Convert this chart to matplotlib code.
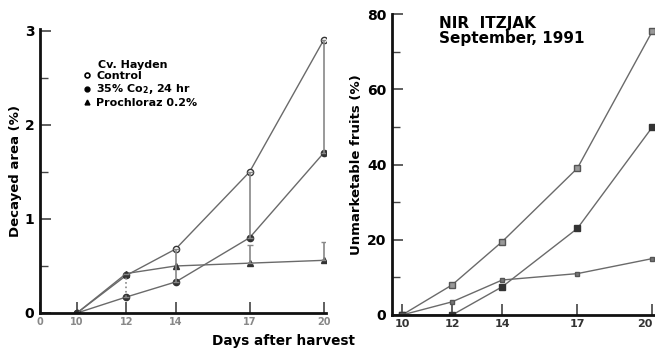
import matplotlib
matplotlib.use("Agg")
import matplotlib.pyplot as plt
from matplotlib.lines import Line2D

# DATA

days = [10, 12, 14, 17, 20]

# Left panel: decayed area (%), cv. Hayden
decayControl = [0.0, 0.40, 0.68, 1.50, 2.90]
decayCO2 = [0.0, 0.17, 0.33, 0.80, 1.70]
decayProchloraz = [0.0, 0.42, 0.50, 0.53, 0.56]

# vertical bars drawn between treatments
barDays = [12, 14, 17, 17, 20, 20]
barLow = [0.17, 0.33, 0.80, 0.53, 1.70, 0.56]
barHigh = [0.42, 0.68, 1.50, 0.72, 2.90, 0.75]

# Right panel: unmarketable fruits (%), Nir Itzjak
fruitControl = [0.0, 8.0, 19.5, 39.0, 75.5]
fruitCO2 = [0.0, 0.0, 7.5, 23.0, 50.0]
fruitProchloraz = [0.0, 3.5, 9.3, 11.0, 15.0]

leftYTicks = [0, 1, 2, 3]
rightYTicks = [0, 20, 40, 60, 80]
xTickLabels = ["10", "12", "14", "17", "20"]

legendLabels = ["Control", "35% Co$_2$, 24 hr", "Prochloraz 0.2%"]

# STYLE

plt.rcParams["font.family"] = ["DejaVu Sans"]
plt.rcParams["font.weight"] = "bold"
plt.rcParams["axes.labelweight"] = "bold"
plt.rcParams["mathtext.default"] = "bf"

lineColour = "#6a6a6a"
markerColour = "#333333"

fig = plt.figure(figsize=(6.55, 3.54), dpi=100)
fig.patch.set_facecolor("white")

axLeft = fig.add_axes([40 / 655, 1 - 313 / 354, 286 / 655, 284 / 354])
axRight = fig.add_axes([392 / 655, 1 - 315 / 354, 263 / 655, 301 / 354])


def styleAxis(ax, labelColour):
	for side in ["top", "right"]:
		ax.spines[side].set_visible(False)
	for side in ["left", "bottom"]:
		ax.spines[side].set_linewidth(2.0)
		ax.spines[side].set_color("#111111")
	ax.tick_params(which="both", direction="in", color="#444444")
	ax.tick_params(which="major", length=8, width=1.2)
	ax.tick_params(which="minor", length=6, width=1.0)
	ax.tick_params(axis="y", labelsize=10, pad=4)
	ax.tick_params(axis="x", labelsize=7, labelcolor=labelColour, pad=3)
	ax.set_facecolor("white")


# LEFT PANEL

axLeft.plot(days, decayControl, color=lineColour, lw=1.0, marker="o", ms=4.5, mfc="white", mec=markerColour, mew=1.0)
axLeft.plot(days, decayCO2, color=lineColour, lw=1.0, marker="o", ms=4.5, mfc=markerColour, mec=markerColour)
axLeft.plot(days, decayProchloraz, color=lineColour, lw=1.0, marker="^", ms=4.5, mfc=markerColour, mec=markerColour)

for day, low, high in zip(barDays, barLow, barHigh):
	axLeft.vlines(day, low, high, color="#888888", lw=1.2, linestyles=":" if day == 12 else "-")
	axLeft.hlines([low, high], day - 0.12, day + 0.12, color="#888888", lw=1.0)

axLeft.set_xlim(8.5, 20.1)
axLeft.set_ylim(0, 3.02)
axLeft.set_xticks([8.5] + days)
axLeft.set_xticklabels(["0"] + xTickLabels)
axLeft.set_yticks(leftYTicks)
axLeft.set_yticks([0.5, 1.5, 2.5], minor=True)
axLeft.set_yticklabels([str(t) for t in leftYTicks])
styleAxis(axLeft, "#888888")
axLeft.set_ylabel("Decayed area (%)", fontsize=9.5, labelpad=2)

handles = [
	Line2D([], [], ls="none", marker="o", ms=3.5, mfc="white", mec="black", mew=1.2),
	Line2D([], [], ls="none", marker="o", ms=3.5, mfc="black", mec="black"),
	Line2D([], [], ls="none", marker="^", ms=3.5, mfc="black", mec="black"),
]
legend = axLeft.legend(handles, legendLabels, title="Cv. Hayden", loc="upper left", bbox_to_anchor=(0.13, 0.915), frameon=False, fontsize=8, title_fontsize=8, handlelength=0.5, handletextpad=0.6, labelspacing=0.12, borderpad=0.1)
legend._legend_box.align = "left"
legend.get_title().set_fontweight("bold")
legend.get_title().set_position((14, 0))

# RIGHT PANEL

axRight.plot(days, fruitControl, color=lineColour, lw=1.0, marker="s", ms=4.5, mfc="#999999", mec="#555555")
axRight.plot(days, fruitCO2, color=lineColour, lw=1.0, marker="s", ms=4.0, mfc=markerColour, mec=markerColour)
axRight.plot(days, fruitProchloraz, color=lineColour, lw=1.0, marker="s", ms=3.5, mfc="#777777", mec="#555555")

axRight.set_xlim(9.6, 20.1)
axRight.set_ylim(0, 80)
axRight.set_xticks(days)
axRight.set_xticklabels(xTickLabels)
axRight.set_yticks(rightYTicks)
axRight.set_yticks([10, 30, 50, 70], minor=True)
axRight.set_yticklabels([str(t) for t in rightYTicks])
styleAxis(axRight, "#333333")
axRight.tick_params(axis="x", labelsize=8)
axRight.get_xticklabels()[-1].set_horizontalalignment("right")
axRight.set_ylabel("Unmarketable fruits (%)", fontsize=9.5, labelpad=3)

axRight.text(0.18, 0.995, "NIR  ITZJAK\nSeptember, 1991", transform=axRight.transAxes, ha="left", va="top", fontsize=11, linespacing=1.0)

fig.text(283 / 655, 1 - 341 / 354, "Days after harvest", ha="center", va="center", fontsize=9.8)

fig.savefig("out.png", dpi=100, facecolor="white")
